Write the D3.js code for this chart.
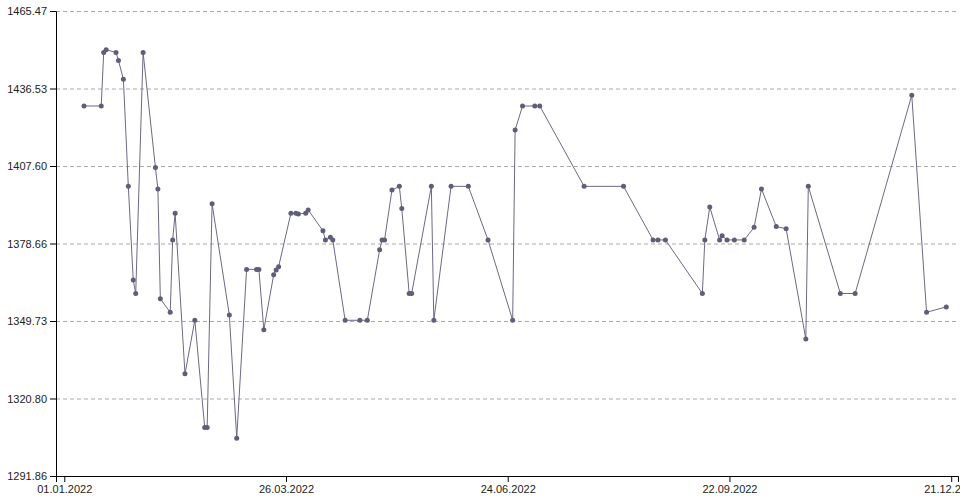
<!DOCTYPE html>
<html>
<head>
<meta charset="utf-8">
<script src="https://cdn.jsdelivr.net/npm/d3@7"></script>
<style>
  html, body { margin: 0; padding: 0; background: #fff; }
  svg { display: block; overflow: hidden; }
  .axis text { font-family: "Liberation Sans", Arial, sans-serif; font-size: 11px; fill: #222; }
  .axis path, .axis line { stroke: #000; }
  .grid line { stroke: #aaa; stroke-dasharray: 4,3; }
  .grid path { display: none; }
</style>
</head>
<body>
<svg id="chart" width="960" height="502"></svg>
<script>
// ---- data ----
const dates = [
  "2022-01-03","2022-01-10","2022-01-11","2022-01-12","2022-01-16","2022-01-17","2022-01-19","2022-01-21",
  "2022-01-23","2022-01-24","2022-01-27","2022-02-01","2022-02-02","2022-02-03","2022-02-07","2022-02-08",
  "2022-02-09","2022-02-13","2022-02-17","2022-02-21","2022-02-22","2022-02-24","2022-03-03","2022-03-06",
  "2022-03-10","2022-03-14","2022-03-15","2022-03-17","2022-03-21","2022-03-22","2022-03-23","2022-03-28",
  "2022-03-30","2022-03-31","2022-04-03","2022-04-04","2022-04-10","2022-04-11","2022-04-13","2022-04-14",
  "2022-04-19","2022-04-25","2022-04-28","2022-05-03","2022-05-04","2022-05-05","2022-05-08","2022-05-11",
  "2022-05-12","2022-05-15","2022-05-16","2022-05-24","2022-05-25","2022-06-01","2022-06-08","2022-06-16",
  "2022-06-26","2022-06-27","2022-06-30","2022-07-05","2022-07-07","2022-07-25","2022-08-10","2022-08-22",
  "2022-08-24","2022-08-27","2022-09-11","2022-09-12","2022-09-14","2022-09-18","2022-09-19","2022-09-21",
  "2022-09-24","2022-09-28","2022-10-02","2022-10-05","2022-10-11","2022-10-15","2022-10-23","2022-10-24",
  "2022-11-06","2022-11-12","2022-12-05","2022-12-11","2022-12-19"
];
const values = [
  1430, 1430, 1450, 1451, 1450, 1447, 1440, 1400,
  1365, 1360, 1450, 1407, 1399, 1358, 1353, 1380,
  1390, 1330, 1350, 1310, 1310, 1393.5, 1352, 1306,
  1369, 1369, 1369, 1346.5, 1367, 1368.8, 1370, 1390,
  1390, 1389.7, 1390, 1391.2, 1383.4, 1380, 1381, 1380,
  1350, 1350, 1350, 1376.3, 1380, 1380, 1398.6, 1400,
  1391.7, 1360, 1360, 1400, 1350, 1400, 1400, 1380,
  1350, 1421, 1430, 1430, 1430, 1400, 1400, 1380,
  1380, 1380, 1360, 1380, 1392.3, 1380, 1381.6, 1380,
  1380, 1380, 1384.7, 1399, 1385, 1384.2, 1343, 1400,
  1360, 1360, 1434, 1353, 1355
];
const yTickValues = [1291.86, 1320.80, 1349.73, 1378.66, 1407.60, 1436.53, 1465.47];
const xTickDates = ["2021-12-26", "2022-03-26", "2022-06-24", "2022-09-22", "2022-12-21"];
const xTickLabels = ["01.01.2022", "26.03.2022", "24.06.2022", "22.09.2022", "21.12.2022"];

// ---- layout ----
const margin = { left: 56, top: 11 };
const W = 902, H = 465;
const parse = d3.timeParse("%Y-%m-%d");
const data = dates.map((d, i) => ({ date: parse(d), value: values[i] }));

// x scale anchored on two tick dates, then extended to the plot width
const x = d3.scaleTime()
  .domain([parse(xTickDates[1]), parse(xTickDates[4])])
  .range([230, 895.2]);
x.domain([x.invert(0), x.invert(W)]).range([0, W]);

const y = d3.scaleLinear()
  .domain([yTickValues[0], yTickValues[yTickValues.length - 1]])
  .range([H, 0]);

const svg = d3.select("#chart");
const g = svg.append("g").attr("transform", `translate(${margin.left},${margin.top})`);

// grid
g.append("g").attr("class", "grid")
  .call(d3.axisLeft(y).tickValues(yTickValues.slice(1)).tickSize(-W).tickFormat(""));

// axes
g.append("g").attr("class", "axis")
  .attr("transform", `translate(0,${H})`)
  .call(d3.axisBottom(x)
    .tickValues(xTickDates.map(parse))
    .tickFormat((d, i) => xTickLabels[i]));

g.append("g").attr("class", "axis")
  .call(d3.axisLeft(y).tickValues(yTickValues).tickFormat(d3.format(".2f")));

// line
const line = d3.line().x(d => x(d.date)).y(d => y(d.value));
g.append("path").datum(data)
  .attr("fill", "none")
  .attr("stroke", "#6a6a84")
  .attr("stroke-width", 1)
  .attr("d", line);

// points
g.selectAll("circle.pt").data(data).join("circle")
  .attr("class", "pt")
  .attr("cx", d => x(d.date))
  .attr("cy", d => y(d.value))
  .attr("r", 2.5)
  .attr("fill", "#5e5e78");
</script>
</body>
</html>
